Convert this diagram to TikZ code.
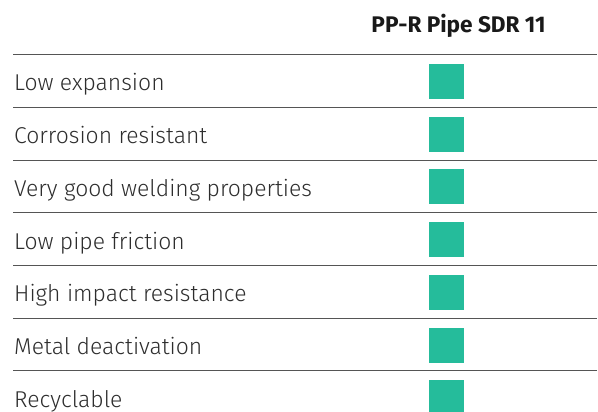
\documentclass[tikz,border=0pt]{standalone}
\usepackage{fontspec}
\setmainfont{Fira Sans}[UprightFont=* Light, BoldFont=* Bold]
\usepackage{xcolor}
\definecolor{tickgreen}{RGB}{37,188,155}
\definecolor{rulegray}{RGB}{85,85,85}
\definecolor{textgray}{RGB}{45,45,45}
\tikzset{
	rowlabel/.style = {anchor=base west, inner sep=0pt, text=textgray, font=\fontsize{22.9}{27}\selectfont},
	tickmark/.style = {fill=tickgreen, inner sep=0pt, minimum size=35pt},
	rowrule/.style = {rulegray, line width=1pt}
}

\begin{document}
\begin{tikzpicture}[x=1pt, y=-1pt]
	\useasboundingbox (0,0) rectangle (598,412);
	
	% header
	\node[anchor=base, inner sep=0pt, text=black!90, font=\bfseries\fontsize{22.6}{26}\selectfont] (head) at (458.5,33) {PP-R Pipe SDR 11};
	
	% rows
	\foreach \txt [count=\i from 0] in {Low expansion, Corrosion resistant, Very good welding properties, Low pipe friction, High impact resistance, Metal deactivation, Recyclable} {
		\draw[rowrule] (13, {54.7+52.7*\i}) -- (597, {54.7+52.7*\i});
		\node[rowlabel] (label\i) at (14, {91+52.7*\i}) {\txt};
		\node[tickmark] (mark\i) at (446.5, {81.5+52.7*\i}) {};
	}
\end{tikzpicture}
\end{document}
